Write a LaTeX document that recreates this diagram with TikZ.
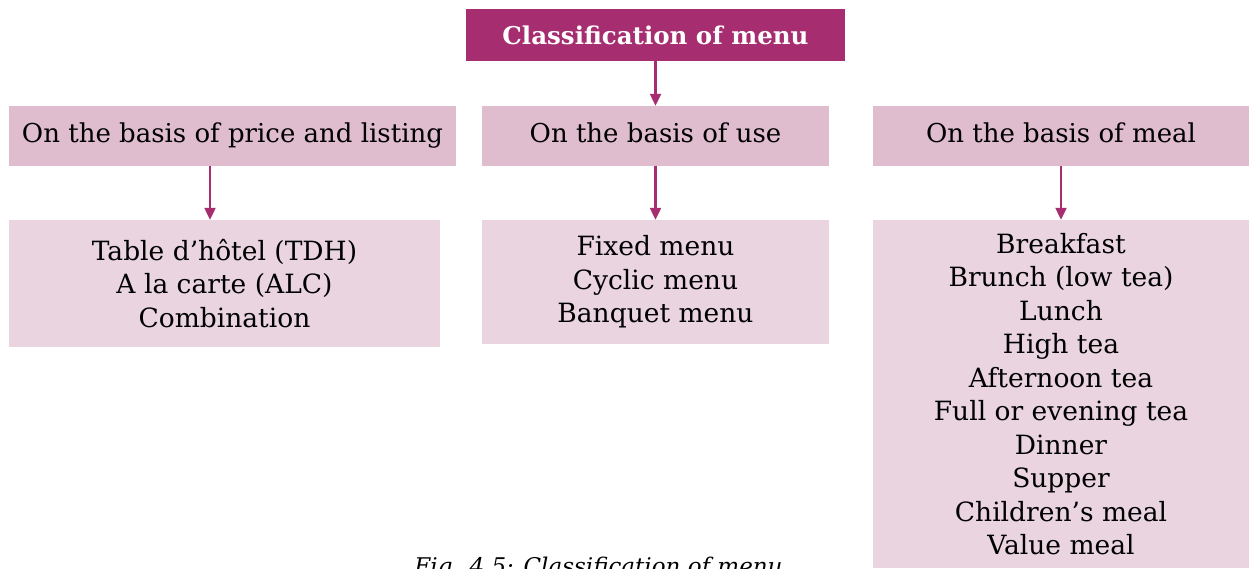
\documentclass[tikz,border=0pt]{standalone}
\usepackage{fontspec}
\setmainfont{DejaVu Serif}
\usetikzlibrary{arrows.meta}
\definecolor{magenta1}{HTML}{A62D6F}
\definecolor{pinkA}{HTML}{DFBCCE}
\definecolor{pinkB}{HTML}{E9D4E0}
\tikzset{
  titlebox/.style={fill=magenta1,text=white,font=\fontsize{24.5}{28}\selectfont\bfseries,inner sep=0pt},
  headbox/.style={fill=pinkA,text=black,font=\fontsize{26}{30}\selectfont,inner sep=0pt,text height=20pt,text depth=8pt},
  listbox/.style={fill=pinkB,text=black,font=\fontsize{26.5}{33.5}\selectfont,align=center,inner sep=0pt},
  arr/.style={draw=magenta1,line width=2.2pt,-{Triangle[length=12pt,width=11pt]}},
  captxt/.style={font=\fontsize{23}{27}\selectfont\itshape,inner sep=0pt}
}
\begin{document}
\begin{tikzpicture}[x=1pt,y=-1pt]
\useasboundingbox (0,0) rectangle (1249,568);
\node[titlebox,minimum width=379pt,minimum height=52pt] (title) at (655.5,35) {Classification of menu};
\node[headbox,minimum width=447pt,minimum height=60pt] (h1) at (232.5,136) {On the basis of price and listing};
\node[headbox,minimum width=347pt,minimum height=60pt] (h2) at (655.5,136) {On the basis of use};
\node[headbox,minimum width=376pt,minimum height=60pt] (h3) at (1061,136) {On the basis of meal};
\node[listbox,minimum width=431pt,minimum height=127pt] (l1) at (224.5,283.5) {Table d’hôtel (TDH)\\A la carte (ALC)\\Combination};
\node[listbox,minimum width=347pt,minimum height=124pt] (l2) at (655.5,282) {Fixed menu\\Cyclic menu\\Banquet menu};
\node[listbox,minimum width=376pt,minimum height=348pt] (l3) at (1061,394) {Breakfast\\Brunch (low tea)\\Lunch\\High tea\\Afternoon tea\\Full or evening tea\\Dinner\\Supper\\Children’s meal\\Value meal};
\node[captxt,anchor=base] (cap) at (598.5,574) {Fig. 4.5: Classification of menu};
\draw[arr] (title.south) -- (h2.north);
\draw[arr] ([xshift=-22.5pt]h1.south) -- ([xshift=-22.5pt]h1.south |- l1.north);
\draw[arr] (h2.south) -- (l2.north);
\draw[arr] (h3.south) -- (l3.north);
\end{tikzpicture}
\end{document}
